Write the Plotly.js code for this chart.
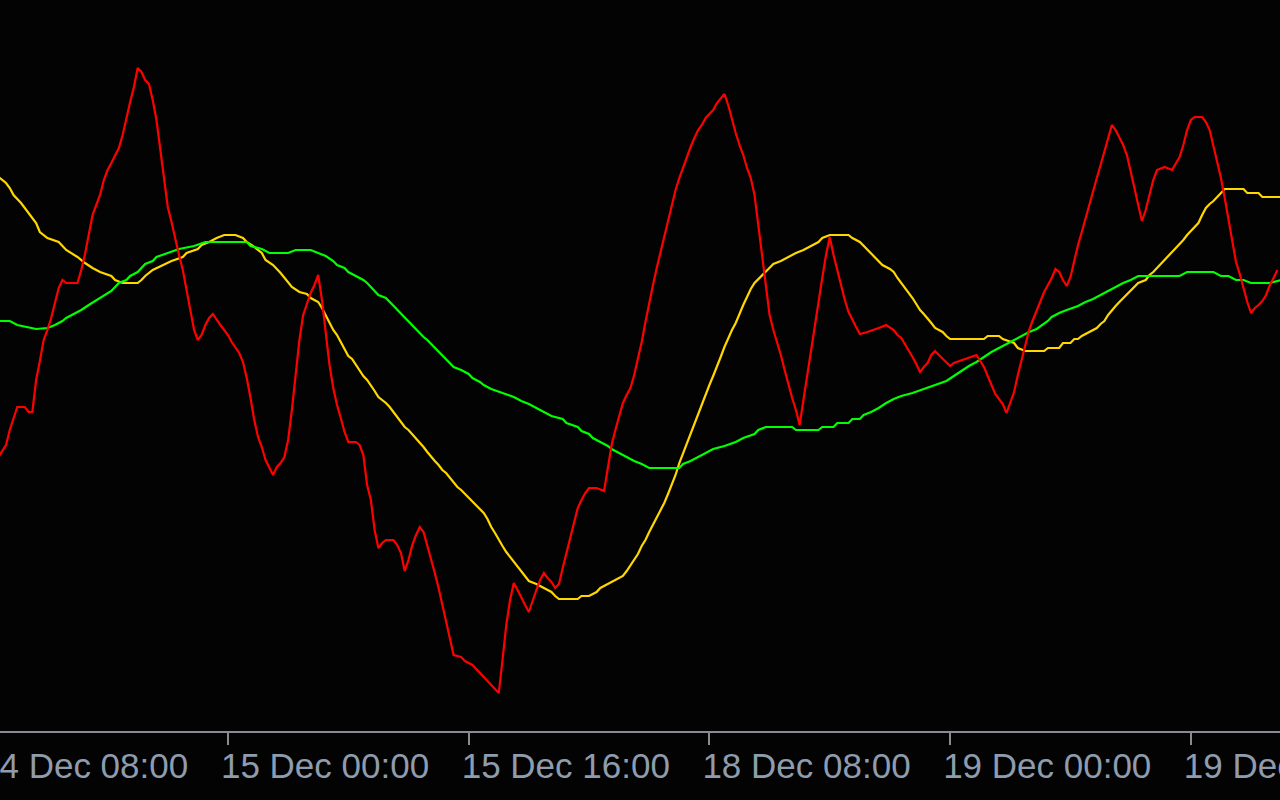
<!DOCTYPE html>
<html>
<head>
<meta charset="utf-8">
<script src="https://cdn.plot.ly/plotly-3.0.1.min.js"></script>
<style>
  html, body { margin: 0; padding: 0; background: #030303; }
  #chart { width: 1280px; height: 800px; }
</style>
</head>
<body>
<div id="chart"></div>
<script>
// x = bar index (15-minute bars, 0 = 15 Dec 00:00), y = indicator value
const redBars = [-61,-59,-58,-57,-56,-54,-53,-52,-51,-50,-49,-48,-47,-46,-45,-44,-43,-40,-39,-38,-37,-36,-35,-34,-33,-32,-31,-30,-29,-28,-27,-26,-25,-24,-23,-22,-21,-20,-19,-18,-17,-16,-15,-14,-13,-12,-11,-10,-9,-8,-7,-6,-5,-4,-3,-2,-1,0,1,2,3,4,5,6,7,8,9,10,11,12,13,14,15,16,17,18,19,20,21,22,23,24,25,26,27,28,29,30,31,32,34,35,36,37,38,39,40,41,42,44,45,46,47,48,49,50,51,52,53,54,55,56,57,58,59,60,62,63,65,66,67,68,69,70,71,72,73,74,75,76,77,78,79,80,81,82,83,84,85,86,87,88,89,90,91,92,93,94,95,96,98,100,101,102,103,104,105,106,107,108,109,110,111,112,113,114,115,116,117,118,119,120,121,122,123,124,125,126,127,128,129,130,131,132,133,134,135,136,137,138,139,140,141,142,143,144,145,146,147,148,149,150,151,152,153,154,155,156,157,158,159,160,161,162,163,164,165,166,167,168,170,173,175,177,178,179,180,181,182,183,184,185,186,187,188,189,190,191,192,193,196,199,201,202,203,204,205,206,207,208,209,210,211,212,213,214,215,216,217,218,219,220,221,222,223,224,225,226,227,228,229,230,231,232,233,234,235,236,237,238,239,240,241,242,243,244,245,246,247,249,251,253,254,255,256,257,259,260,261,262,263,264,265,266,267,268,269,270,271,272,273,274,275,276,277,278,279];
const redValues = [27.4,28.6,30.1,31.3,32.4,32.4,31.9,31.9,35.1,37.0,39.1,40.1,41.3,42.8,44.3,45.1,44.8,44.8,46.1,47.7,49.6,51.6,52.6,53.6,55.1,56.1,56.8,57.6,58.3,59.6,61.4,62.9,64.4,66.3,65.9,65.1,64.7,63.1,61.1,58.1,55.1,52.4,50.9,49.1,47.6,46.1,44.1,42.1,40.1,39.1,39.6,40.6,41.3,41.7,41.1,40.6,40.1,39.6,38.9,38.4,37.8,36.9,35.3,33.3,31.1,29.4,28.4,27.1,26.3,25.6,26.4,26.8,27.4,29.1,32.1,35.6,39.1,41.6,42.8,43.8,44.6,45.6,43.1,39.6,36.6,34.3,32.6,31.3,29.9,28.9,28.9,28.6,27.6,24.6,23.1,20.1,18.3,18.8,19.1,19.1,18.6,17.8,16.0,17.1,18.6,19.6,20.4,19.9,18.6,17.1,15.8,14.3,12.6,10.9,9.1,7.6,7.4,7.0,6.6,6.2,5.8,5.4,5.0,4.5,4.1,3.8,7.1,10.6,13.1,14.8,14.1,13.3,12.6,11.9,13.1,14.1,15.1,15.8,15.3,14.9,14.3,14.7,16.3,17.8,19.6,21.1,22.3,23.1,23.8,24.3,24.3,24.0,26.1,28.6,30.1,31.6,32.8,33.6,34.3,35.6,37.1,38.9,40.9,42.9,44.6,46.3,47.9,49.4,50.9,52.4,54.1,55.3,56.4,57.3,58.4,59.3,60.1,60.6,61.3,61.7,62.1,62.8,63.3,63.7,62.6,61.1,59.8,58.6,57.6,56.3,55.3,53.6,50.6,47.6,44.1,41.6,40.1,38.9,37.6,36.1,34.6,33.3,32.1,30.6,33.1,35.6,38.1,40.6,43.1,45.3,47.6,49.4,47.6,46.1,44.4,43.1,41.9,41.1,40.4,39.7,39.9,40.3,40.6,40.1,39.6,39.3,38.7,38.1,37.4,36.7,35.9,36.4,36.8,37.6,38.0,37.6,37.2,36.8,36.5,36.8,37.2,37.6,36.4,35.5,34.5,33.7,33.2,32.7,31.8,32.8,33.9,35.6,37.1,38.6,40.1,41.1,42.1,42.9,43.9,44.6,45.3,46.2,45.9,45.1,44.5,45.4,47.1,48.6,49.9,51.3,52.6,54.1,55.3,56.6,57.9,59.3,60.6,60.1,59.4,58.6,57.6,56.1,54.3,52.6,51.0,52.1,53.6,55.1,56.1,56.4,56.1,57.4,58.6,60.1,61.1,61.4,61.4,60.9,60.1,58.6,57.1,55.3,53.3,51.1,48.8,46.9,45.7,44.3,42.9,41.8,42.3,42.6,43.0,43.6,44.6,45.3,46.1];

const yellowBars = [-61,-59,-58,-57,-55,-53,-51,-50,-48,-45,-43,-40,-38,-36,-34,-31,-30,-28,-24,-23,-22,-20,-17,-15,-12,-11,-8,-7,-5,-3,-1,2,4,5,7,9,10,12,14,16,17,19,21,22,24,25,26,27,28,29,30,31,32,33,34,35,36,37,38,39,40,41,42,43,44,45,46,47,48,49,50,51,52,53,54,55,56,57,58,59,60,61,62,63,64,65,66,67,68,69,70,71,72,73,74,75,76,77,78,79,80,82,84,86,87,88,93,94,96,98,99,101,103,105,106,107,108,109,110,111,112,113,114,115,116,117,118,119,120,121,122,123,124,125,126,127,128,129,130,131,132,133,134,135,136,137,138,139,140,141,142,143,144,145,147,149,151,153,155,157,158,160,165,166,168,169,170,171,173,174,176,177,178,179,180,181,182,183,184,185,186,187,188,190,191,192,201,202,205,206,209,210,212,217,218,221,222,224,225,226,227,229,231,232,233,234,235,236,237,238,239,240,241,242,244,245,246,247,248,249,250,251,252,253,254,255,256,257,258,259,260,261,262,263,264,265,270,271,274,275,280];
const yellowValues = [55.4,54.8,54.3,53.6,52.8,51.8,50.8,49.9,49.3,48.9,48.1,47.4,46.8,46.3,45.9,45.5,45.1,44.8,44.8,45.1,45.5,46.1,46.6,47.0,47.4,47.8,48.2,48.6,48.9,49.3,49.6,49.6,49.3,48.9,48.4,47.8,47.1,46.6,45.8,44.8,44.4,43.9,43.7,43.3,42.9,42.3,41.6,40.8,40.1,39.6,38.9,38.2,37.5,37.2,36.6,36.0,35.5,35.1,34.6,34.0,33.4,33.1,32.8,32.4,31.9,31.5,31.0,30.4,30.1,29.7,29.3,28.8,28.4,27.9,27.4,27.0,26.6,26.1,25.8,25.3,24.8,24.4,24.1,23.7,23.4,22.9,22.6,22.2,21.8,21.2,20.4,19.8,19.1,18.5,17.9,17.4,16.9,16.5,15.9,15.4,15.0,14.7,14.3,13.9,13.5,13.2,13.2,13.5,13.5,13.9,14.3,14.7,15.1,15.5,16.0,16.6,17.1,17.7,18.5,19.1,19.9,20.6,21.4,22.0,22.8,23.7,24.6,25.6,26.8,27.8,28.8,29.8,30.8,31.8,32.8,33.6,34.6,35.5,36.4,37.4,38.4,39.3,40.1,40.8,41.8,42.6,43.4,44.2,44.8,45.2,45.6,45.9,46.3,46.7,47.0,47.4,47.8,48.1,48.5,48.9,49.3,49.6,49.6,49.3,48.9,48.5,48.1,47.7,47.0,46.6,46.2,45.9,45.3,44.8,44.4,43.8,43.3,42.7,42.1,41.7,41.3,40.8,40.3,39.9,39.5,39.2,39.2,39.5,39.5,39.2,38.8,38.3,38.0,38.0,38.3,38.3,38.8,38.8,39.2,39.2,39.5,39.9,40.3,40.7,41.0,41.6,42.1,42.5,42.9,43.3,43.7,44.0,44.4,44.8,45.1,45.6,45.9,46.3,46.7,47.0,47.4,47.8,48.2,48.6,49.1,49.6,50.0,50.4,50.8,51.6,52.3,52.7,53.0,53.4,53.8,54.2,54.2,53.8,53.8,53.4,53.4];

const greenBars = [-61,-58,-56,-51,-48,-46,-44,-43,-41,-39,-37,-34,-32,-31,-30,-29,-27,-26,-24,-23,-22,-20,-19,-16,-13,-9,-6,5,6,9,11,16,18,22,24,26,28,29,31,32,34,36,37,38,39,40,42,43,44,45,46,47,48,49,50,51,52,53,54,55,56,57,58,59,60,62,64,65,67,68,70,73,76,78,80,82,84,86,89,90,93,94,96,97,99,101,102,104,106,108,110,112,120,121,123,125,127,129,132,135,137,140,141,143,150,151,157,158,161,162,165,166,168,169,171,173,175,177,179,182,185,188,191,193,195,197,199,201,203,205,207,209,211,213,215,218,219,221,223,226,228,230,232,234,236,238,240,242,253,255,262,264,266,268,270,272,277,280];
const greenValues = [41.0,41.0,40.6,40.2,40.3,40.6,41.0,41.3,41.7,42.1,42.6,43.3,43.7,44.0,44.4,44.8,45.1,45.5,45.9,46.3,46.7,47.0,47.4,47.8,48.2,48.5,48.9,48.9,48.5,48.2,47.8,47.8,48.1,48.1,47.8,47.5,47.0,46.6,46.3,45.9,45.5,45.1,44.8,44.4,44.0,43.6,43.3,42.9,42.5,42.1,41.8,41.4,41.0,40.6,40.2,39.8,39.4,39.1,38.7,38.3,37.9,37.6,37.2,36.8,36.4,36.1,35.7,35.3,34.9,34.6,34.2,33.8,33.4,33.0,32.7,32.3,31.9,31.5,31.2,30.8,30.4,30.0,29.7,29.3,28.9,28.5,28.2,27.8,27.4,27.0,26.7,26.3,26.3,26.7,27.0,27.4,27.8,28.2,28.5,28.9,29.3,29.7,30.1,30.4,30.4,30.1,30.1,30.4,30.4,30.8,30.8,31.2,31.2,31.6,31.9,32.3,32.8,33.2,33.5,33.8,34.2,34.6,35.0,35.5,36.0,36.5,36.9,37.4,37.9,38.3,38.7,39.1,39.5,39.9,40.2,41.0,41.4,41.8,42.1,42.5,42.9,43.2,43.6,44.0,44.4,44.8,45.1,45.5,45.5,45.9,45.9,45.5,45.5,45.1,45.1,44.8,44.8,45.1];

const tickBars = [-64, 0, 64, 128, 192, 256];
const tickLabels = ["14 Dec 08:00", "15 Dec 00:00", "15 Dec 16:00", "18 Dec 08:00", "19 Dec 00:00", "19 Dec 16:00"];

const xRange = [-60.6, 279.7];
const yRange = [0, 73.1];

const axisGray = '#8a8b92';
const labelColor = '#8e9cad';
const labelFont = { family: '"Liberation Sans Narrow", "Arial Narrow", "Liberation Sans", Arial, sans-serif', size: 35, color: labelColor };

function line(x, y, color) {
  return { x: x, y: y, type: 'scatter', mode: 'lines', line: { color: color, width: 2.2, shape: 'linear' }, hoverinfo: 'skip' };
}

const traces = [
  line(yellowBars, yellowValues, '#ffd700'),
  line(greenBars, greenValues, '#00ff00'),
  line(redBars, redValues, '#ff0000')
];

// label of the first tick (its tick lies just left of the visible area)
const firstPaperX = (tickBars[0] - xRange[0]) / (xRange[1] - xRange[0]);

const layout = {
  width: 1280, height: 800,
  paper_bgcolor: '#030303', plot_bgcolor: '#030303',
  margin: { l: 0, r: 0, t: 0, b: 69, pad: 0 },
  showlegend: false,
  xaxis: {
    range: xRange, fixedrange: true,
    tickmode: 'array', tickvals: tickBars, ticktext: tickLabels,
    ticks: 'outside', ticklen: 12, tickwidth: 2, tickcolor: axisGray,
    ticklabelposition: 'outside right',
    ticklabeloverflow: 'allow',
    ticklabelshift: -9,
    ticklabelstandoff: 3,
    tickfont: labelFont,
    showline: true, linecolor: axisGray, linewidth: 2,
    showgrid: false, zeroline: false
  },
  yaxis: {
    range: yRange, fixedrange: true, visible: false,
    showgrid: false, zeroline: false
  },
  annotations: [{
    xref: 'paper', yref: 'paper', x: firstPaperX, y: 0,
    xanchor: 'left', yanchor: 'top', yshift: -13, xshift: -9,
    text: tickLabels[0], showarrow: false, font: labelFont
  }]
};

Plotly.newPlot('chart', traces, layout, { staticPlot: true, displayModeBar: false });
</script>
</body>
</html>
